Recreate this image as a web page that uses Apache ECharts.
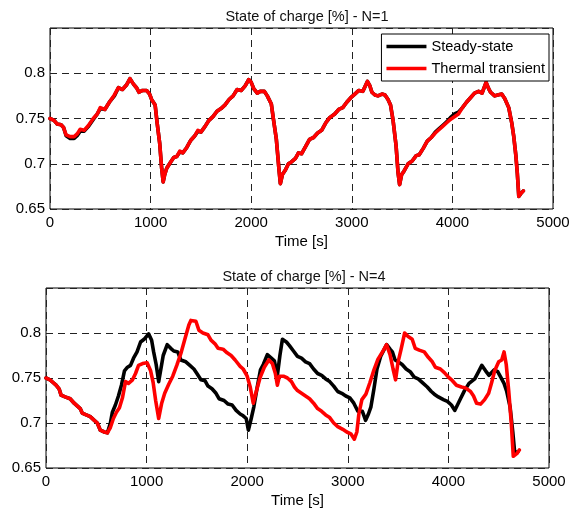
<!DOCTYPE html>
<html>
<head>
<meta charset="utf-8">
<script src="https://cdn.jsdelivr.net/npm/echarts@6/dist/echarts.min.js"></script>
<style>
html,body{margin:0;padding:0;background:#fff;}
#chart{width:580px;height:511px;}
</style>
</head>
<body>
<div id="chart"></div>
<script>
// ---------- Data ----------
const seriesNames = ['Steady-state', 'Thermal transient'];
const titles = ['State of charge [%] - N=1', 'State of charge [%] - N=4'];
const xAxisName = 'Time [s]';
const xTicks = [0, 1000, 2000, 3000, 4000, 5000];
const yTicks = [0.65, 0.7, 0.75, 0.8];

// N=1, thermal transient
const t1Transient = [0,40,70,110,135,160,200,240,270,300,340,380,430,470,500,545,590,640,680,720,760,795,830,860,885,920,960,990,1010,1045,1065,1090,1110,1125,1140,1160,1200,1230,1260,1290,1320,1360,1400,1440,1470,1500,1540,1580,1620,1660,1700,1740,1780,1820,1860,1900,1940,1975,2000,2025,2060,2090,2130,2160,2200,2220,2250,2275,2290,2310,2340,2370,2400,2440,2470,2500,2540,2580,2620,2660,2700,2740,2780,2830,2870,2910,2950,2990,3030,3070,3110,3155,3180,3200,3230,3260,3300,3330,3360,3385,3410,3440,3460,3475,3495,3520,3560,3600,3640,3670,3710,3750,3790,3830,3860,3900,3940,3980,4020,4060,4100,4140,4180,4220,4260,4295,4335,4360,4380,4420,4450,4490,4520,4560,4590,4610,4630,4645,4660,4680,4705];
const v1Transient = [0.750,0.748,0.744,0.743,0.740,0.732,0.730,0.730,0.733,0.738,0.737,0.742,0.750,0.755,0.762,0.760,0.768,0.776,0.784,0.782,0.787,0.794,0.788,0.784,0.779,0.781,0.781,0.777,0.771,0.765,0.745,0.723,0.695,0.680,0.688,0.695,0.702,0.707,0.708,0.714,0.712,0.718,0.726,0.731,0.737,0.735,0.741,0.748,0.752,0.758,0.761,0.765,0.771,0.775,0.782,0.781,0.786,0.793,0.790,0.783,0.778,0.780,0.780,0.775,0.766,0.750,0.727,0.695,0.678,0.688,0.693,0.700,0.702,0.706,0.712,0.711,0.719,0.727,0.729,0.734,0.737,0.745,0.751,0.755,0.760,0.762,0.768,0.773,0.777,0.781,0.780,0.791,0.786,0.779,0.776,0.775,0.777,0.776,0.771,0.765,0.748,0.720,0.690,0.677,0.688,0.692,0.700,0.703,0.709,0.710,0.717,0.725,0.729,0.734,0.737,0.741,0.745,0.749,0.752,0.755,0.762,0.768,0.773,0.778,0.780,0.778,0.790,0.783,0.779,0.775,0.776,0.777,0.772,0.762,0.745,0.730,0.710,0.690,0.664,0.667,0.670];

// N=1, steady-state (almost identical, hidden under the red curve)
const t1Steady = [0,40,70,110,135,160,200,240,270,300,340,380,430,470,500,545,590,640,680,720,760,795,830,860,885,920,960,990,1010,1045,1065,1090,1110,1125,1140,1160,1200,1230,1260,1290,1320,1360,1400,1440,1470,1500,1540,1580,1620,1660,1700,1740,1780,1820,1860,1900,1940,1975,2000,2025,2060,2090,2130,2160,2200,2220,2250,2275,2290,2310,2340,2370,2400,2440,2470,2500,2540,2580,2620,2660,2700,2740,2780,2830,2870,2910,2950,2990,3030,3070,3110,3155,3180,3200,3230,3260,3300,3330,3360,3385,3410,3440,3460,3475,3495,3520,3560,3600,3640,3670,3710,3750,3790,3830,3860,3900,3940,3980,4020,4060,4100,4140,4180,4220,4260,4295,4335,4360,4380,4420,4450,4490,4520,4560,4590,4610,4630,4645,4660,4680,4705];
const v1Steady = [0.750,0.748,0.744,0.743,0.740,0.731,0.728,0.728,0.731,0.736,0.736,0.741,0.749,0.755,0.761,0.760,0.768,0.775,0.784,0.782,0.787,0.794,0.788,0.784,0.779,0.781,0.781,0.777,0.771,0.765,0.745,0.723,0.695,0.680,0.688,0.695,0.702,0.707,0.708,0.713,0.712,0.718,0.726,0.731,0.736,0.735,0.741,0.748,0.752,0.758,0.761,0.765,0.771,0.775,0.782,0.781,0.786,0.793,0.790,0.783,0.778,0.780,0.780,0.775,0.766,0.750,0.727,0.695,0.678,0.688,0.693,0.700,0.702,0.706,0.712,0.711,0.719,0.727,0.729,0.734,0.737,0.745,0.751,0.755,0.760,0.762,0.768,0.773,0.777,0.781,0.780,0.791,0.786,0.779,0.776,0.775,0.777,0.776,0.771,0.765,0.748,0.720,0.690,0.677,0.688,0.692,0.700,0.703,0.709,0.710,0.717,0.725,0.729,0.735,0.738,0.742,0.746,0.751,0.755,0.757,0.762,0.768,0.773,0.778,0.780,0.778,0.790,0.783,0.779,0.775,0.776,0.777,0.772,0.762,0.745,0.730,0.710,0.690,0.664,0.667,0.670];

// N=4, thermal transient
const t4Transient = [0,40,70,100,130,150,190,240,280,310,340,360,400,440,480,510,540,580,610,640,670,700,730,760,790,820,860,890,920,960,1005,1040,1065,1090,1120,1150,1180,1220,1260,1300,1340,1380,1420,1440,1490,1520,1560,1610,1640,1680,1710,1760,1800,1840,1880,1930,1960,2000,2030,2060,2090,2130,2170,2215,2250,2280,2300,2320,2360,2400,2440,2470,2500,2540,2580,2620,2660,2700,2740,2780,2820,2860,2900,2950,2990,3030,3065,3090,3110,3140,3180,3220,3260,3300,3340,3385,3420,3450,3475,3500,3530,3565,3600,3640,3670,3710,3760,3800,3840,3870,3920,3960,4000,4040,4080,4130,4170,4220,4250,4280,4320,4360,4400,4430,4460,4500,4530,4553,4575,4600,4625,4645,4680,4705];
const v4Transient = [0.750,0.748,0.745,0.742,0.738,0.731,0.729,0.727,0.722,0.719,0.716,0.711,0.709,0.707,0.703,0.700,0.692,0.690,0.689,0.695,0.705,0.712,0.717,0.728,0.746,0.744,0.748,0.755,0.764,0.766,0.767,0.758,0.745,0.725,0.705,0.722,0.733,0.743,0.752,0.764,0.777,0.793,0.809,0.814,0.813,0.803,0.800,0.798,0.792,0.788,0.783,0.782,0.778,0.775,0.770,0.763,0.760,0.752,0.740,0.722,0.735,0.751,0.762,0.770,0.766,0.755,0.742,0.752,0.752,0.750,0.746,0.740,0.736,0.733,0.730,0.727,0.722,0.716,0.713,0.709,0.706,0.700,0.696,0.693,0.690,0.688,0.682,0.690,0.710,0.726,0.732,0.745,0.759,0.771,0.778,0.787,0.776,0.760,0.748,0.768,0.782,0.800,0.796,0.793,0.783,0.781,0.779,0.773,0.768,0.762,0.760,0.756,0.751,0.747,0.742,0.740,0.739,0.735,0.730,0.722,0.721,0.726,0.733,0.745,0.758,0.768,0.770,0.779,0.765,0.735,0.700,0.663,0.666,0.670];

// N=4, steady-state
const t4Steady = [0,40,70,100,130,150,190,240,280,310,340,360,400,440,480,510,540,580,610,640,660,690,720,750,780,810,840,870,905,940,975,1020,1050,1070,1095,1120,1145,1165,1205,1240,1270,1310,1340,1390,1430,1470,1500,1540,1580,1610,1650,1690,1720,1770,1810,1850,1890,1930,1960,1990,2012,2040,2066,2100,2132,2160,2200,2240,2270,2300,2325,2350,2390,2420,2460,2500,2540,2580,2620,2660,2700,2740,2780,2820,2860,2900,2940,2980,3020,3060,3100,3145,3177,3205,3230,3260,3290,3326,3386,3420,3443,3470,3500,3540,3580,3620,3660,3700,3750,3790,3830,3860,3900,3950,3990,4030,4063,4090,4120,4160,4205,4262,4300,4332,4370,4404,4454,4490,4520,4553,4580,4613,4640,4660,4690];
const v4Steady = [0.750,0.748,0.745,0.742,0.738,0.731,0.729,0.727,0.722,0.719,0.716,0.711,0.709,0.707,0.703,0.700,0.692,0.690,0.689,0.700,0.712,0.720,0.730,0.742,0.758,0.762,0.764,0.772,0.779,0.790,0.793,0.799,0.792,0.779,0.765,0.746,0.762,0.775,0.787,0.783,0.780,0.779,0.770,0.768,0.764,0.760,0.755,0.748,0.747,0.741,0.738,0.733,0.727,0.725,0.721,0.720,0.714,0.710,0.708,0.705,0.692,0.705,0.718,0.740,0.759,0.765,0.776,0.772,0.769,0.753,0.775,0.793,0.790,0.786,0.780,0.774,0.772,0.768,0.766,0.760,0.755,0.753,0.749,0.746,0.741,0.735,0.733,0.730,0.728,0.722,0.713,0.713,0.703,0.710,0.718,0.738,0.760,0.774,0.787,0.782,0.779,0.770,0.768,0.765,0.760,0.757,0.751,0.749,0.744,0.740,0.735,0.732,0.729,0.726,0.724,0.720,0.714,0.720,0.727,0.736,0.744,0.749,0.757,0.764,0.758,0.753,0.759,0.757,0.751,0.744,0.735,0.718,0.690,0.666,0.668];

// ---------- Chart ----------
const zip = (t, v) => t.map((x, i) => [x, v[i]]);
const FONT = 'Liberation Sans, Arial, sans-serif';
const grids = [
  {left: 50, top: 28, width: 503, height: 181},
  {left: 46, top: 288, width: 503, height: 180}
];
function xAx(i) {
  return {
    type: 'value', gridIndex: i, min: 0, max: 5000, interval: 1000,
    name: xAxisName, nameLocation: 'middle', nameGap: 25,
    nameTextStyle: {color: '#000', fontSize: 15, fontFamily: FONT},
    axisLine: {show: false}, axisTick: {show: false},
    axisLabel: {color: '#000', fontSize: 15, fontFamily: FONT, margin: 6,
      formatter: v => xTicks.includes(v) ? String(v) : ''},
    splitLine: {show: true, lineStyle: {color: '#222', type: [7, 5], width: 1}}
  };
}
function yAx(i) {
  return {
    type: 'value', gridIndex: i, min: 0.65, max: 0.85, interval: 0.05,
    axisLine: {show: false}, axisTick: {show: false},
    axisLabel: {color: '#000', fontSize: 15, fontFamily: FONT, margin: 5,
      formatter: v => {
        const m = yTicks.find(y => Math.abs(y - v) < 1e-6);
        return m === undefined ? '' : String(m);
      }},
    splitLine: {show: true, lineStyle: {color: '#222', type: [7, 5], width: 1}}
  };
}
function line(name, data, color, idx) {
  return {
    name: name, type: 'line', data: data, xAxisIndex: idx, yAxisIndex: idx,
    symbol: 'none', showSymbol: false, smooth: false,
    lineStyle: {color: color, width: 3.6, join: 'round', cap: 'round'}, itemStyle: {color: color},
    animation: false
  };
}
const chart = echarts.init(document.getElementById('chart'), null, {renderer: 'canvas'});
chart.setOption({
  backgroundColor: '#fff',
  animation: false,
  title: [
    {text: titles[0], left: 302, top: 4, textAlign: 'center',
     textStyle: {color: '#111', fontSize: 14.5, fontWeight: 'normal', fontFamily: FONT}},
    {text: titles[1], left: 299, top: 264, textAlign: 'center',
     textStyle: {color: '#111', fontSize: 14.5, fontWeight: 'normal', fontFamily: FONT}}
  ],
  legend: {
    data: seriesNames, orient: 'vertical', right: 31, top: 34,
    backgroundColor: '#fff', borderColor: '#000', borderWidth: 1,
    padding: [5, 4, 5, 5], itemGap: 7, itemWidth: 40, itemHeight: 14, itemTextGap: 5,
    icon: 'path://M0,5.5 L40,5.5 L40,9 L0,9 Z',
    textStyle: {color: '#000', fontSize: 14.6, fontFamily: FONT}
  },
  grid: grids.map(g => Object.assign({show: true, borderColor: '#000', borderWidth: 1, backgroundColor: 'transparent'}, g)),
  xAxis: [xAx(0), xAx(1)],
  yAxis: [yAx(0), yAx(1)],
  series: [
    line(seriesNames[0], zip(t1Steady, v1Steady), '#000', 0),
    line(seriesNames[1], zip(t1Transient, v1Transient), '#ff0000', 0),
    line(seriesNames[0], zip(t4Steady, v4Steady), '#000', 1),
    line(seriesNames[1], zip(t4Transient, v4Transient), '#ff0000', 1)
  ]
});
</script>
</body>
</html>
